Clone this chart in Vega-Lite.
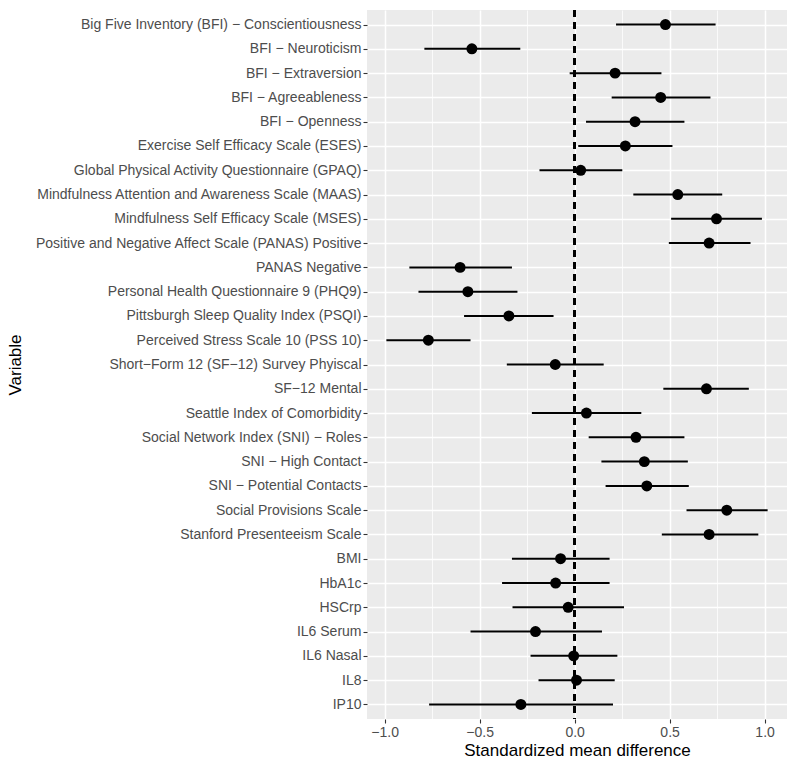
{
  "$schema": "https://vega.github.io/schema/vega-lite/v6.json",
  "width": 420,
  "height": 709,
  "autosize": {"type": "none"},
  "padding": {"left": 367, "top": 10, "right": 13, "bottom": 47},
  "background": "white",
  "config": {
    "view": {"fill": "#EBEBEB", "stroke": null},
    "font": "Liberation Sans",
    "axis": {
      "domain": false,
      "gridColor": "white",
      "gridWidth": 1.5,
      "tickColor": "#333333",
      "tickSize": 4,
      "tickWidth": 1.1,
      "labelColor": "#4D4D4D",
      "labelFontSize": 14,
      "labelFont": "Liberation Sans",
      "titleFont": "Liberation Sans",
      "titleFontSize": 17,
      "titleFontWeight": "normal",
      "titleColor": "#000000"
    }
  },
  "data": {
    "values": [
      {"Variable": "Big Five Inventory (BFI) − Conscientiousness", "est": 0.478, "lo": 0.218, "hi": 0.742},
      {"Variable": "BFI − Neuroticism", "est": -0.541, "lo": -0.791, "hi": -0.286},
      {"Variable": "BFI − Extraversion", "est": 0.213, "lo": -0.026, "hi": 0.457},
      {"Variable": "BFI − Agreeableness", "est": 0.453, "lo": 0.195, "hi": 0.715},
      {"Variable": "BFI − Openness", "est": 0.318, "lo": 0.060, "hi": 0.578},
      {"Variable": "Exercise Self Efficacy Scale (ESES)", "est": 0.267, "lo": 0.019, "hi": 0.515},
      {"Variable": "Global Physical Activity Questionnaire (GPAQ)", "est": 0.032, "lo": -0.185, "hi": 0.251},
      {"Variable": "Mindfulness Attention and Awareness Scale (MAAS)", "est": 0.543, "lo": 0.309, "hi": 0.777},
      {"Variable": "Mindfulness Self Efficacy Scale (MSES)", "est": 0.747, "lo": 0.508, "hi": 0.986},
      {"Variable": "Positive and Negative Affect Scale (PANAS) Positive", "est": 0.708, "lo": 0.496, "hi": 0.926},
      {"Variable": "PANAS Negative", "est": -0.603, "lo": -0.870, "hi": -0.330},
      {"Variable": "Personal Health Questionnaire 9 (PHQ9)", "est": -0.562, "lo": -0.822, "hi": -0.301},
      {"Variable": "Pittsburgh Sleep Quality Index (PSQI)", "est": -0.346, "lo": -0.582, "hi": -0.111},
      {"Variable": "Perceived Stress Scale 10 (PSS 10)", "est": -0.770, "lo": -0.991, "hi": -0.548},
      {"Variable": "Short−Form 12 (SF−12) Survey Phyiscal", "est": -0.102, "lo": -0.357, "hi": 0.153},
      {"Variable": "SF−12 Mental", "est": 0.694, "lo": 0.467, "hi": 0.917},
      {"Variable": "Seattle Index of Comorbidity", "est": 0.062, "lo": -0.225, "hi": 0.351},
      {"Variable": "Social Network Index (SNI) − Roles", "est": 0.323, "lo": 0.074, "hi": 0.578},
      {"Variable": "SNI − High Contact", "est": 0.367, "lo": 0.141, "hi": 0.596},
      {"Variable": "SNI − Potential Contacts", "est": 0.380, "lo": 0.163, "hi": 0.601},
      {"Variable": "Social Provisions Scale", "est": 0.801, "lo": 0.589, "hi": 1.016},
      {"Variable": "Stanford Presenteeism Scale", "est": 0.708, "lo": 0.459, "hi": 0.967},
      {"Variable": "BMI", "est": -0.074, "lo": -0.330, "hi": 0.184},
      {"Variable": "HbA1c", "est": -0.100, "lo": -0.382, "hi": 0.184},
      {"Variable": "HSCrp", "est": -0.034, "lo": -0.327, "hi": 0.260},
      {"Variable": "IL6 Serum", "est": -0.206, "lo": -0.548, "hi": 0.144},
      {"Variable": "IL6 Nasal", "est": -0.005, "lo": -0.232, "hi": 0.225},
      {"Variable": "IL8", "est": 0.010, "lo": -0.190, "hi": 0.211},
      {"Variable": "IP10", "est": -0.283, "lo": -0.766, "hi": 0.202}
    ]
  },
  "resolve": {"axis": {"x": "independent"}},
  "layer": [
    {
      "mark": {"type": "point", "opacity": 0},
      "encoding": {
        "y": {"field": "Variable", "type": "nominal", "sort": null},
        "x": {
          "field": "est", "type": "quantitative",
          "axis": {
            "orient": "top",
            "values": [-0.75, -0.25, 0.25, 0.75],
            "labels": false, "ticks": false, "domain": false, "title": null,
            "grid": true, "gridWidth": 0.75, "gridColor": "white"
          }
        }
      }
    },
    {
      "mark": {"type": "rule", "strokeWidth": 2, "color": "black"},
      "encoding": {
        "y": {
          "field": "Variable", "type": "nominal", "sort": null,
          "scale": {"type": "point", "padding": 0.6},
          "axis": {"title": "Variable", "grid": true, "gridWidth": 1.5, "labelPadding": 2, "titleX": -352, "titleBaseline": "middle", "titleAngle": 270, "labelLimit": 400}
        },
        "x": {
          "field": "lo", "type": "quantitative",
          "scale": {"domain": [-1.093, 1.118], "nice": false, "zero": false},
          "axis": {
            "title": "Standardized mean difference",
            "values": [-1, -0.5, 0, 0.5, 1],
            "format": ".1f",
            "grid": true,
            "gridWidth": 1.5,
            "labelPadding": 2,
            "titlePadding": 3
          }
        },
        "x2": {"field": "hi"}
      }
    },
    {
      "mark": {"type": "point", "filled": true, "size": 120, "color": "black", "opacity": 1},
      "encoding": {
        "y": {"field": "Variable", "type": "nominal", "sort": null},
        "x": {"field": "est", "type": "quantitative", "axis": null}
      }
    },
    {
      "mark": {"type": "rule", "strokeDash": [7, 5], "strokeWidth": 1.5, "color": "black"},
      "encoding": {"x": {"datum": 0, "axis": null}}
    }
  ]
}
